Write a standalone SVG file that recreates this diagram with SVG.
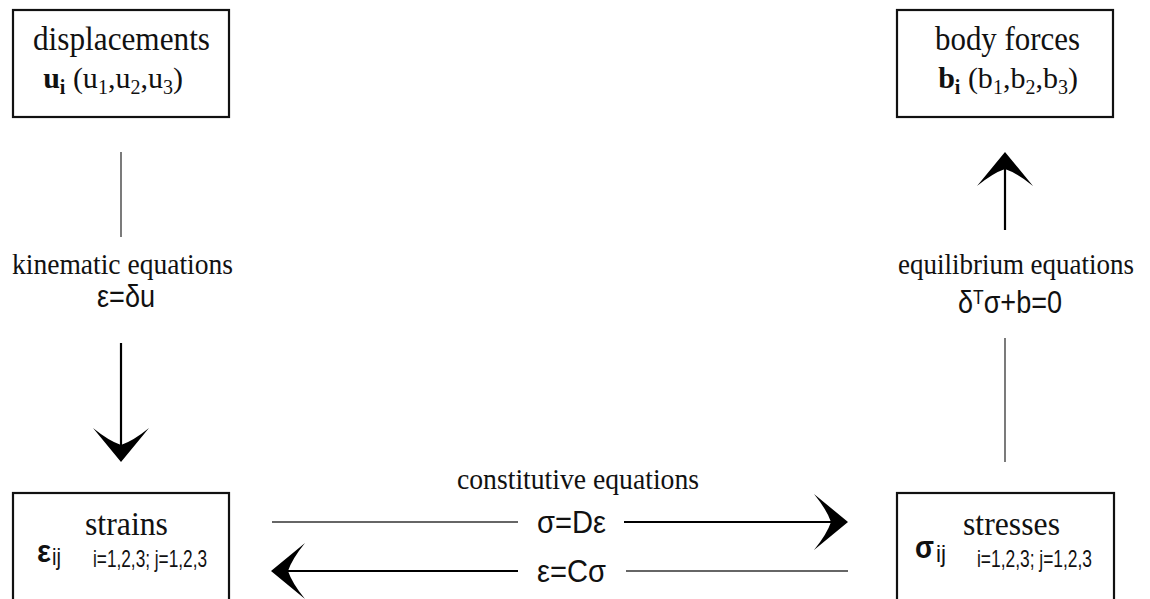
<svg xmlns="http://www.w3.org/2000/svg" width="1150" height="599" viewBox="0 0 1150 599">
<style>
  .box { fill: #fff; stroke: #111; stroke-width: 2.2; }
  .title { font-family: "Liberation Serif", "DejaVu Serif", serif; font-size: 34px; fill: #111; }
  .line2 { font-family: "Liberation Serif", "DejaVu Serif", serif; font-size: 30px; fill: #111; text-anchor: middle; }
  .lbl { font-family: "Liberation Serif", "DejaVu Serif", serif; font-size: 30px; fill: #111; }
  .sub { font-size: 20px; }
  .f { font-family: "Liberation Sans Narrow", "Liberation Sans", "DejaVu Sans", sans-serif; font-size: 31px; fill: #111; }
  .fs { font-family: "Liberation Sans Narrow", "Liberation Sans", "DejaVu Sans", sans-serif; font-size: 24px; fill: #111; }
  .sup { font-size: 20px; }
  .thin { stroke: #333; stroke-width: 1.3; fill: none; }
  .shaft { stroke: #000; stroke-width: 2.2; fill: none; }
  .head { fill: #000; }
</style>
<defs>
  <path id="ah" d="M0,0 L-34,-28 Q-21,-12 -17,0 Q-21,12 -34,28 Z"/>
</defs>

<g id="connectors">
  <line class="thin" x1="121" y1="152" x2="121" y2="237"/>
  <line class="shaft" x1="121" y1="343" x2="121" y2="450"/>
  <use href="#ah" class="head" transform="translate(121,462) rotate(90)"/>
  <line class="thin" x1="1005" y1="338" x2="1005" y2="462"/>
  <line class="shaft" x1="1005" y1="230" x2="1005" y2="164"/>
  <use href="#ah" class="head" transform="translate(1005,152) rotate(-90)"/>
  <line class="thin" x1="272" y1="522" x2="518" y2="522"/>
  <line class="shaft" x1="624" y1="522" x2="836" y2="522"/>
  <use href="#ah" class="head" transform="translate(848,522)"/>
  <line class="thin" x1="626" y1="571" x2="848" y2="571"/>
  <line class="shaft" x1="283" y1="571" x2="518" y2="571"/>
  <use href="#ah" class="head" transform="translate(271,571) rotate(180)"/>
</g>

<g id="labels">
  <text class="lbl" x="12" y="274" textLength="221" lengthAdjust="spacingAndGlyphs">kinematic equations</text>
  <text class="f" x="97" y="307" textLength="58" lengthAdjust="spacingAndGlyphs">ε=δu</text>
  <text class="lbl" x="898" y="274" textLength="236" lengthAdjust="spacingAndGlyphs">equilibrium equations</text>
  <text class="f" x="958" y="313" textLength="104" lengthAdjust="spacingAndGlyphs">δ<tspan class="fs sup" dy="-9">T</tspan><tspan dy="9">σ+b=0</tspan></text>
  <text class="lbl" x="457" y="489" textLength="242" lengthAdjust="spacingAndGlyphs">constitutive equations</text>
  <text class="f" x="537" y="533" textLength="69" lengthAdjust="spacingAndGlyphs">σ=Dε</text>
  <text class="f" x="537" y="582" textLength="69" lengthAdjust="spacingAndGlyphs">ε=Cσ</text>
</g>

<g id="node-displacements">
  <rect class="box" x="13" y="10" width="216" height="107"/>
  <text class="title" x="33" y="50" textLength="177" lengthAdjust="spacingAndGlyphs">displacements</text>
  <text class="line2" x="113" y="88"><tspan font-weight="bold">u</tspan><tspan class="sub" font-weight="bold" dy="6">i</tspan><tspan dy="-6"> (u</tspan><tspan class="sub" dy="6">1</tspan><tspan dy="-6">,u</tspan><tspan class="sub" dy="6">2</tspan><tspan dy="-6">,u</tspan><tspan class="sub" dy="6">3</tspan><tspan dy="-6">)</tspan></text>
</g>

<g id="node-body-forces">
  <rect class="box" x="897" y="10" width="216" height="107"/>
  <text class="title" x="935" y="50" textLength="145" lengthAdjust="spacingAndGlyphs">body forces</text>
  <text class="line2" x="1008" y="88"><tspan font-weight="bold">b</tspan><tspan class="sub" font-weight="bold" dy="6">i</tspan><tspan dy="-6"> (b</tspan><tspan class="sub" dy="6">1</tspan><tspan dy="-6">,b</tspan><tspan class="sub" dy="6">2</tspan><tspan dy="-6">,b</tspan><tspan class="sub" dy="6">3</tspan><tspan dy="-6">)</tspan></text>
</g>

<g id="node-strains">
  <rect class="box" x="13" y="493" width="216" height="120"/>
  <text class="title" x="85" y="535" textLength="83" lengthAdjust="spacingAndGlyphs">strains</text>
  <text class="f" x="37" y="562" font-weight="bold" textLength="14" lengthAdjust="spacingAndGlyphs">ε</text>
  <text class="fs" x="52" y="565" textLength="9" lengthAdjust="spacingAndGlyphs">ij</text>
  <text class="fs" x="93" y="567" textLength="114" lengthAdjust="spacingAndGlyphs">i=1,2,3; j=1,2,3</text>
</g>

<g id="node-stresses">
  <rect class="box" x="897" y="493" width="217" height="120"/>
  <text class="title" x="963" y="535" textLength="97" lengthAdjust="spacingAndGlyphs">stresses</text>
  <text class="f" x="915" y="558" font-weight="bold" textLength="19" lengthAdjust="spacingAndGlyphs">σ</text>
  <text class="fs" x="936" y="562" textLength="10" lengthAdjust="spacingAndGlyphs">ij</text>
  <text class="fs" x="977" y="567" textLength="115" lengthAdjust="spacingAndGlyphs">i=1,2,3; j=1,2,3</text>
</g>
</svg>
